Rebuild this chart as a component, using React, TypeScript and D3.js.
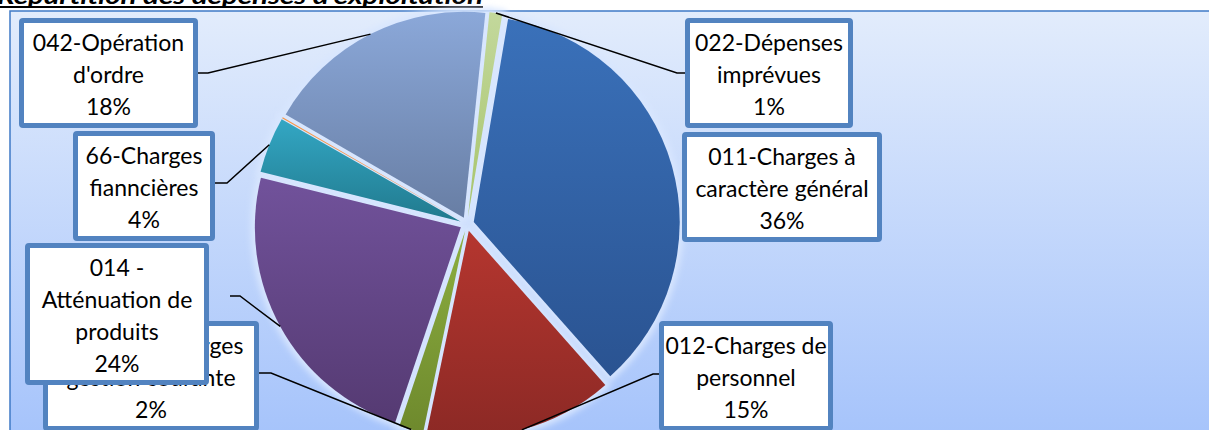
import * as d3 from 'd3';
import React, { useEffect, useRef } from 'react';

// slice order, clockwise from the top
const categories = [
  '022-Dépenses imprévues',
  '011-Charges à caractère général',
  '012-Charges de personnel',
  '65-Autres charges gestion courante',
  '014 - Atténuation de produits',
  '66-Charges fianncières',
  '67-Charges exceptionnelles',
  '042-Opération d\'ordre',
];
const values = [1.0, 35.8, 14.8, 1.9, 23.7, 4.4, 0.1, 18.3];
const percentLabels = ['1%', '36%', '15%', '2%', '24%', '4%', '0%', '18%'];
const labelLines = [
  ['022-Dépenses', 'imprévues'],
  ['011-Charges à', 'caractère général'],
  ['012-Charges de', 'personnel'],
  ['65-Autres charges', 'gestion courante'],
  ['014 -', 'Atténuation de', 'produits'],
  ['66-Charges', 'fianncières'],
  [],
  ['042-Opération', 'd\'ordre'],
];
const colorsTop = ['#c3d89c', '#3a71ba', '#b5362f', '#8cae40', '#71529b', '#33a7c4', '#f79646', '#8ba8d9'];
const colorsBottom = ['#a7c46c', '#2a5391', '#8c2925', '#6e892d', '#553a72', '#217a8e', '#e3802f', '#687ea4'];

// label box layout: x, y (top), width; leader: start x, y, elbow x (null = no leader)
const boxes = [
  { x: 685, y: 18, w: 168, lead: [686, 73, 677] },
  { x: 682, y: 132, w: 200, lead: null },
  { x: 659, y: 321, w: 174, lead: [660, 374, 653] },
  { x: 43, y: 321, w: 216, lead: [259, 373, 271] },
  { x: 25, y: 243, w: 184, lead: [230, 296, 240] },
  { x: 73, y: 131, w: 142, lead: [215, 183, 227] },
  null,
  { x: 19, y: 18, w: 179, lead: [198, 73, 208] },
];
// draw order for the boxes (014 sits on top of 65)
const boxOrder = [0, 1, 2, 3, 4, 5, 7];

const App = () => {
  const ref = useRef<SVGSVGElement>(null);

  useEffect(() => {
    const width = 1209, height = 430;
    const cx = 467, cy = 224, radius = 206, explode = 7;
    const lineH = 32;

    const svg = d3.select(ref.current);
    svg.selectAll('*').remove();
    svg.attr('width', width).attr('height', height);

    const defs = svg.append('defs');
    const bg = defs.append('linearGradient').attr('id', 'bg')
      .attr('x1', 0).attr('y1', 0).attr('x2', 0).attr('y2', 1);
    bg.append('stop').attr('offset', 0).attr('stop-color', '#e2ecfc');
    bg.append('stop').attr('offset', 1).attr('stop-color', '#a5c3fb');

    values.forEach((_, i) => {
      const g = defs.append('linearGradient').attr('id', `sl${i}`)
        .attr('x1', 0).attr('y1', 0).attr('x2', 0).attr('y2', 1);
      g.append('stop').attr('offset', 0).attr('stop-color', colorsTop[i]);
      g.append('stop').attr('offset', 1).attr('stop-color', colorsBottom[i]);
    });
    defs.append('filter').attr('id', 'glow')
      .attr('x', -0.2).attr('y', -0.2).attr('width', 1.4).attr('height', 1.4)
      .append('feGaussianBlur').attr('stdDeviation', 3);

    svg.append('rect').attr('width', width).attr('height', height).attr('fill', '#fff');

    // title (mostly cut off at the top)
    svg.append('text')
      .attr('x', -3).attr('y', 4)
      .attr('font-family', 'Lato, sans-serif')
      .attr('font-weight', 'bold').attr('font-style', 'italic')
      .attr('font-size', 22)
      .attr('textLength', 486).attr('lengthAdjust', 'spacingAndGlyphs')
      .text('Répartition des dépenses d\'exploitation');
    svg.append('line').attr('x1', 0).attr('x2', 483).attr('y1', 7).attr('y2', 7)
      .attr('stroke', '#000').attr('stroke-width', 2);

    // chart area
    svg.append('rect').attr('x', 10).attr('y', 11).attr('width', width).attr('height', height)
      .attr('fill', 'url(#bg)').attr('stroke', '#3f7ac6').attr('stroke-width', 1.5);

    const pie = d3.pie<number>().sort(null).value(d => d).startAngle(6 * Math.PI / 180).endAngle(366 * Math.PI / 180);
    const arcs = pie(values);
    const arc = d3.arc<d3.PieArcDatum<number>>().innerRadius(0).outerRadius(radius);
    const off = (a: d3.PieArcDatum<number>, r: number) => {
      const m = (a.startAngle + a.endAngle) / 2;
      return [Math.sin(m) * r, -Math.cos(m) * r];
    };

    const pieG = svg.append('g').attr('transform', `translate(${cx},${cy})`);
    pieG.selectAll('path.halo').data(arcs).join('path')
      .attr('class', 'halo')
      .attr('transform', d => `translate(${off(d, explode)})`)
      .attr('d', arc)
      .attr('fill', '#d8e6fe').attr('stroke', '#d8e6fe').attr('stroke-width', 8)
      .attr('filter', 'url(#glow)');
    pieG.selectAll('path.slice').data(arcs).join('path')
      .attr('class', 'slice')
      .attr('transform', d => `translate(${off(d, explode)})`)
      .attr('d', arc)
      .attr('fill', (d, i) => i === 6 ? colorsTop[i] : `url(#sl${i})`);

    // leader lines
    arcs.forEach((a, i) => {
      const b = boxes[i];
      if (!b || !b.lead) return;
      const [px, py] = off(a, radius + explode);
      const [sx, sy, ex] = b.lead;
      svg.append('polyline')
        .attr('points', `${sx},${sy} ${ex},${sy} ${cx + px},${cy + py}`)
        .attr('fill', 'none').attr('stroke', '#000').attr('stroke-width', 1.5);
    });

    // label boxes
    boxOrder.forEach(i => {
      const b = boxes[i]!;
      const lines = [...labelLines[i], percentLabels[i]];
      const h = 33 + (lines.length - 1) * lineH + 13;
      const g = svg.append('g');
      g.append('rect')
        .attr('x', b.x + 2.5).attr('y', b.y + 2.5)
        .attr('width', b.w - 5).attr('height', h - 5)
        .attr('rx', 1.5)
        .attr('fill', '#fff').attr('stroke', '#5283c0').attr('stroke-width', 5);
      g.selectAll('text').data(lines).join('text')
        .attr('x', b.x + b.w / 2)
        .attr('y', (_, k) => b.y + 33 + k * lineH)
        .attr('text-anchor', 'middle')
        .attr('font-family', 'Lato, sans-serif')
        .attr('font-size', 23)
        .attr('fill', '#000')
        .text(d => d);
    });
  }, []);

  return <svg ref={ref} style={{ position: 'absolute', left: 0, top: 0 }}></svg>;
};

export default App;
